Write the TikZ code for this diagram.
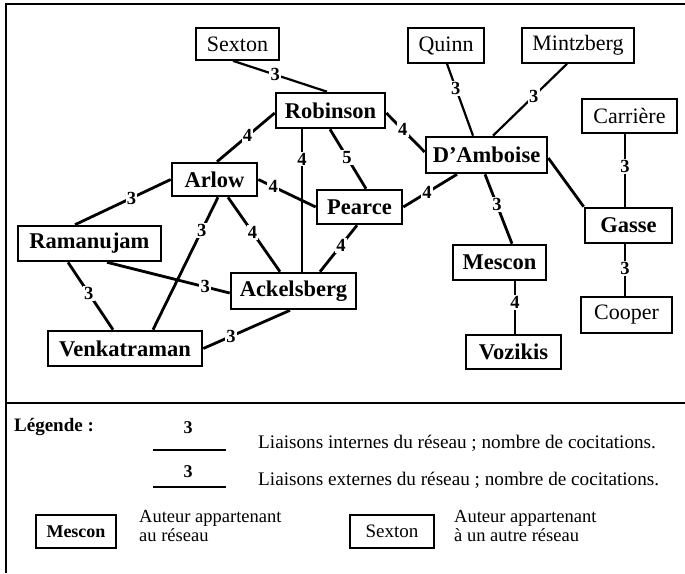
\documentclass[tikz,border=0pt]{standalone}
\usepackage{fontspec}
\setmainfont{Liberation Serif}
\usetikzlibrary{calc}
\begin{document}
\begin{tikzpicture}[x=1pt,y=-1pt,
 inbox/.style={draw,line width=2.6pt,inner sep=0pt,font=\fontsize{22.5}{24}\selectfont\bfseries},
 outbox/.style={draw,line width=1.7pt,inner sep=0pt,font=\fontsize{22}{24}\selectfont},
 inlink/.style={line width=2.8pt},
 outlink/.style={line width=2.2pt},
 lbl/.style={fill=white,inner sep=1.2pt,font=\fontsize{18.5}{19}\selectfont\bfseries},
 frameline/.style={line width=1.8pt},
 legtext/.style={font=\fontsize{19.2}{20}\selectfont,inner sep=0pt},
]
\useasboundingbox (0,0) rectangle (685,573);
% frame
\draw[frameline] (685,4) -- (6,4) -- (6,573);
\draw[line width=1.5pt] (6,403) -- (685,403);

% nodes
\node[outbox,minimum width=83pt,minimum height=32pt] (sex) at (237.5,44) {Sexton};
\node[inbox,minimum width=109pt,minimum height=35pt] (rob) at (330.5,110.5) {Robinson};
\node[outbox,minimum width=76pt,minimum height=35pt] (qui) at (446,45.5) {Quinn};
\node[outbox,minimum width=112pt,minimum height=35pt] (min) at (578,45.5) {Mintzberg};
\node[outbox,minimum width=95pt,minimum height=34pt] (car) at (629.5,116) {Carrière};
\node[inbox,minimum width=121pt,minimum height=36pt] (dam) at (486.5,155) {D'Amboise};
\node[inbox,minimum width=85pt,minimum height=33pt] (arl) at (214.5,179.5) {Arlow};
\node[inbox,minimum width=85pt,minimum height=34pt] (pea) at (359.5,207) {Pearce};
\node[inbox,minimum width=143pt,minimum height=35pt] (ram) at (89.5,243.5) {Ramanujam};
\node[inbox,minimum width=125pt,minimum height=36pt] (ack) at (293.5,291) {Ackelsberg};
\node[inbox,minimum width=87pt,minimum height=35pt] (gas) at (628.5,225.5) {Gasse};
\node[inbox,minimum width=93pt,minimum height=35pt] (mes) at (499.5,262.5) {Mescon};
\node[inbox,minimum width=154pt,minimum height=35pt] (ven) at (125,348.5) {Venkatraman};
\node[outbox,minimum width=91pt,minimum height=36pt] (coo) at (626.5,315) {Cooper};
\node[inbox,minimum width=95pt,minimum height=34pt] (voz) at (513.5,352) {Vozikis};

% connectors
\draw[outlink] ([xshift=-4.5pt]sex.south) -- node[lbl,pos=.45]{3} ([xshift=-3.5pt]rob.north);
\draw[inlink] ([yshift=-2.5pt]rob.west) -- node[lbl,pos=.47]{4} ([xshift=2.5pt]arl.north);
\draw[inlink] ([xshift=-28.5pt]rob.south) -- node[lbl,pos=.21]{4} ([xshift=8.5pt]ack.north);
\draw[inlink] ([xshift=-0.5pt]rob.south) -- node[lbl,pos=.47]{5} ([xshift=6.5pt]pea.north);
\draw[inlink] ([yshift=-2.5pt]rob.east) -- node[lbl,pos=.43]{4} ([yshift=3pt]dam.west);
\draw[inlink] (arl.east) -- node[lbl,pos=.26]{4} (pea.west);
\draw[inlink] (arl.west) -- node[lbl,pos=.41]{3} ([xshift=-14.5pt]ram.north);
\draw[inlink] ([xshift=13.5pt]arl.south) -- node[lbl,pos=.47]{4} ([xshift=-13.5pt]ack.north);
\draw[inlink] ([xshift=3.5pt]arl.south) -- node[lbl,pos=.25]{3} ([xshift=28pt]ven.north);
\draw[inlink] ([xshift=-2.5pt]pea.south) -- node[lbl,pos=.43]{4} ([xshift=26.5pt]ack.north);
\draw[inlink] (pea.east) -- node[lbl,pos=.44]{4} ([xshift=-29.5pt]dam.south);
\draw[inlink] ([xshift=17.5pt]ram.south) -- node[lbl,pos=.8]{3} ([yshift=-2pt]ack.west);
\draw[inlink] ([xshift=-21.5pt]ram.south) -- node[lbl,pos=.46]{3} ([xshift=-12pt]ven.north);
\draw[inlink] (ven.east) -- node[lbl,pos=.32]{3} ([xshift=-3.5pt]ack.south);
\draw[outlink] ([xshift=1pt]qui.south) -- node[lbl,pos=.34]{3} ([xshift=-13.5pt]dam.north);
\draw[outlink] ([xshift=-11pt]min.south) -- node[lbl,pos=.45]{3} ([xshift=6.5pt]dam.north);
\draw[inlink] ([xshift=-1.5pt]dam.south) -- node[lbl,pos=.44]{3} ([xshift=12.5pt]mes.north);
\draw[inlink] ([yshift=-3pt]dam.east) -- (gas.north west);
\draw[outlink] ([xshift=-4.5pt]car.south) -- node[lbl,pos=.45]{3} ([xshift=-3.5pt]gas.north);
\draw[outlink] ([xshift=-3.5pt]gas.south) -- node[lbl,pos=.46]{3} ([xshift=-1.5pt]coo.north);
\draw[inlink] ([xshift=15.5pt]mes.south) -- node[lbl,pos=.4]{4} ([xshift=1.5pt]voz.north);

% legend
\node[anchor=west,inner sep=0pt,font=\fontsize{19}{20}\selectfont\bfseries] (leg) at (14,427) {Légende :};
\node[inner sep=0pt,font=\fontsize{18}{18}\selectfont\bfseries] (n1) at (188,428) {3};
\coordinate (l1a) at (153,450); \coordinate (l1b) at (226,450);
\draw[inlink] (l1a) -- (l1b);
\node[inner sep=0pt,font=\fontsize{18}{18}\selectfont\bfseries] (n2) at (188,472) {3};
\coordinate (l2a) at (153,487); \coordinate (l2b) at (226,487);
\draw[outlink] (l2a) -- (l2b);
\node[legtext,anchor=base west] (t1) at (258,448) {Liaisons internes du réseau ; nombre de cocitations.};
\node[legtext,anchor=base west] (t2) at (258,485) {Liaisons externes du réseau ; nombre de cocitations.};
\node[draw,line width=2.6pt,inner sep=0pt,minimum width=80pt,minimum height=33pt,font=\fontsize{18}{20}\selectfont\bfseries] (lm) at (76,531.5) {Mescon};
\node[anchor=north west,inner sep=0pt,align=left,font=\fontsize{18.5}{19}\selectfont] (a1) at (139,510) {Auteur appartenant\\au réseau};
\node[draw,line width=1.7pt,inner sep=0pt,minimum width=84pt,minimum height=33pt,font=\fontsize{19}{20}\selectfont] (ls) at (392,531.5) {Sexton};
\node[anchor=north west,inner sep=0pt,align=left,font=\fontsize{18.5}{19}\selectfont] (a2) at (454,510) {Auteur appartenant\\à un autre réseau};
\end{tikzpicture}
\end{document}
